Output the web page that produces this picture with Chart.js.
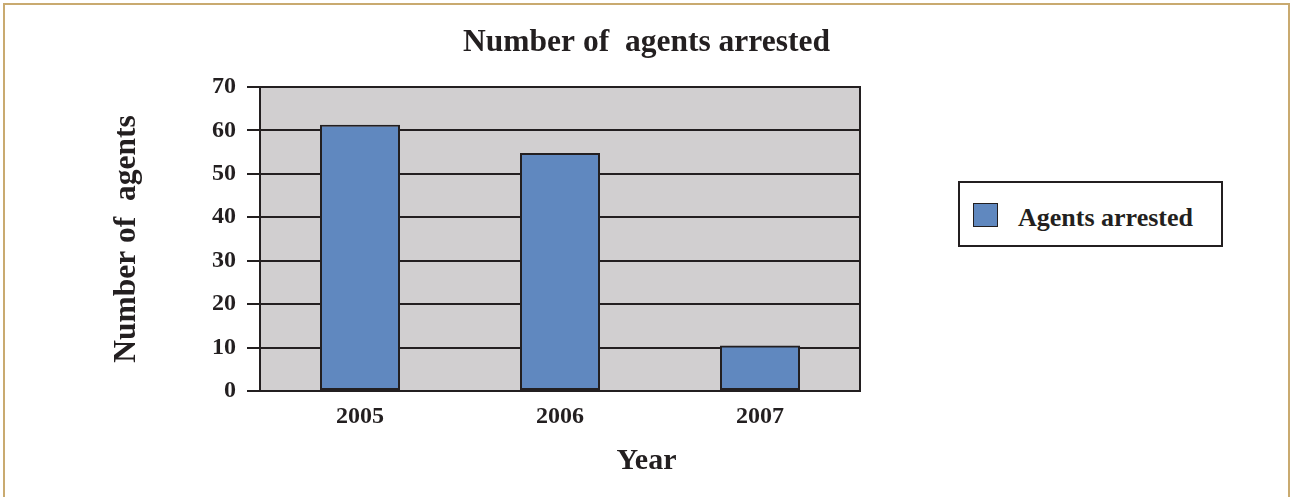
<!DOCTYPE html>
<html>
<head>
<meta charset="utf-8">
<script src="https://cdn.jsdelivr.net/npm/chart.js@4"></script>
<style>
  html, body { margin:0; padding:0; background:#fff; overflow:hidden; }
  #frame { position:absolute; left:3px; top:3px; width:1283px; height:500px; border:2px solid #c9aa70; }
  #wrap  { position:absolute; left:0; top:0; width:1283px; height:492px; }
  #legend { position:absolute; left:953px; top:176px; width:261px; height:62px; border:2px solid #231f20; background:#fff;
            font-family:"Liberation Serif", serif; font-weight:bold; font-size:26px; color:#231f20; }
  #legend .sw { position:absolute; left:13px; top:20px; width:23px; height:22px; background:#6088bf; border:1.5px solid #231f20; }
  #legend .tx { position:absolute; left:58px; top:20px; white-space:nowrap; }
</style>
</head>
<body>
<div id="frame">
  <div id="wrap"><canvas id="chart"></canvas></div>
  <div id="legend"><span class="sw"></span><span class="tx" id="legendText"></span></div>
</div>
<script>
/* ---------- data ---------- */
const years      = ['2005', '2006', '2007'];
const arrested   = [61.3, 54.8, 10.5];
const yTicks     = [0, 10, 20, 30, 40, 50, 60, 70];
const seriesName = 'Agents arrested';
const chartTitle = 'Number of  agents arrested';
const yTitle     = 'Number of  agents';
const xTitle     = 'Year';

/* ---------- style ---------- */
const INK   = '#231f20';
const BAR   = '#6088bf';
const PLOT  = '#d1cfd0';
const SERIF = '"Liberation Serif", "Times New Roman", serif';

document.getElementById('legendText').textContent = seriesName;

// grey fill behind the plot area
const plotBg = {
  id: 'plotBg',
  beforeDraw(chart) {
    const {ctx, chartArea:a} = chart;
    ctx.save();
    ctx.fillStyle = PLOT;
    ctx.fillRect(a.left, a.top, a.right - a.left, a.bottom - a.top);
    ctx.restore();
  }
};

new Chart(document.getElementById('chart'), {
  type: 'bar',
  data: {
    labels: years,
    datasets: [{
      label: seriesName,
      data: arrested,
      backgroundColor: BAR,
      borderColor: INK,
      borderWidth: 2,
      borderSkipped: false,
      categoryPercentage: 0.8,
      barPercentage: 0.5
    }]
  },
  options: {
    responsive: true,
    maintainAspectRatio: false,
    animation: false,
    layout: { padding: 0 },
    plugins: {
      legend: { display: false },
      tooltip: { enabled: false },
      title: {
        display: true, text: chartTitle, color: INK,
        font: { family: SERIF, size: 31.5, weight: 'bold' },
        padding: { top: 18.6, bottom: 25.6 }
      },
      subtitle: {
        display: true, position: 'bottom', text: xTitle, color: INK,
        font: { family: SERIF, size: 30, weight: 'bold' },
        padding: { top: 0, bottom: 18 }
      }
    },
    scales: {
      x: {
        grid: { display: false, drawTicks: false },
        border: { display: true, color: INK, width: 2 },
        ticks: { color: INK, padding: 11.5, font: { family: SERIF, size: 24, weight: 'bold' } },
        afterFit(s) { s.height = 52; }
      },
      y: {
        min: 0, max: 70,
        afterBuildTicks(s) { s.ticks = yTicks.map(v => ({ value: v })); },
        grid: { color: INK, lineWidth: 2, tickLength: 13, drawTicks: true },
        border: { display: true, color: INK, width: 2 },
        ticks: { color: INK, padding: 11, font: { family: SERIF, size: 24, weight: 'bold' } },
        title: {
          display: true, text: yTitle, color: INK,
          font: { family: SERIF, size: 31.5, weight: 'bold' },
          padding: { top: 103.1, bottom: 0 }
        },
        afterFit(s) { s.width = 255; }
      },
      // empty right axis: draws the right plot edge and keeps room for the legend
      yRight: {
        position: 'right', min: 0, max: 70,
        grid: { display: false },
        border: { display: true, color: INK, width: 2 },
        ticks: { display: false },
        afterFit(s) { s.width = 428; }
      }
    }
  },
  plugins: [plotBg]
});
</script>
</body>
</html>
